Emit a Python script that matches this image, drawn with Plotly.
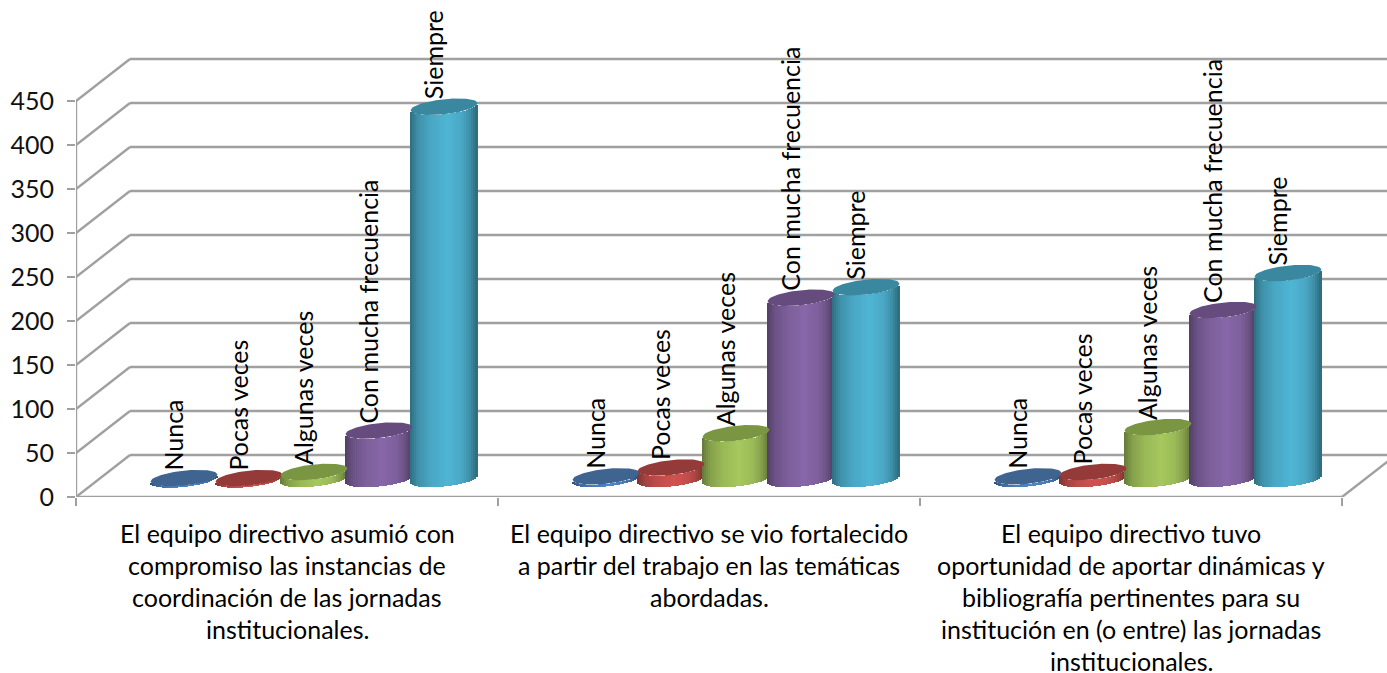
import plotly.graph_objects as go

# ---- data ----
groups = [0, 1, 2]
group_lines = [
    ["El equipo directivo asumió con", "compromiso las instancias de",
     "coordinación de las jornadas", "institucionales."],
    ["El equipo directivo se vio fortalecido", "a partir del trabajo en las temáticas",
     "abordadas."],
    ["El equipo directivo tuvo", "oportunidad de aportar dinámicas y",
     "bibliografía pertinentes para su", "institución en (o entre) las jornadas",
     "institucionales."],
]
series_names = ["Nunca", "Pocas veces", "Algunas veces", "Con mucha frecuencia", "Siempre"]
nunca = [1, 3, 3]
pocas = [1, 13, 8]
algunas = [8, 52, 59]
con_mucha = [55, 206, 192]
siempre = [423, 218, 234]
series_values = [nunca, pocas, algunas, con_mucha, siempre]
y_ticks = [0, 50, 100, 150, 200, 250, 300, 350, 400, 450]

# ---- styling ----
body_mid = ["#4f86c6", "#cf5350", "#a6c85e", "#8767a8", "#4fb5d4"]
cap_col = ["#3e648f", "#943b39", "#7b9642", "#664c7e", "#3a87a0"]
grid_col = "#a0a0a0"
FONT = "Lato"
PW, PH = 1311, 497          # plot area in px
XPX = 422.0                 # px per category
YPX = 0.88                  # px per value unit
DX, DY = 54 / XPX, 42 / YPX # 3-D wall offset
CX = 27 / XPX               # depth shift of the columns
BASE = 18 / YPX             # depth lift of the columns
STEP = 65 / XPX
A = 33.5 / XPX              # half width of column
TILT = 3.5 / YPX            # ellipse tilt
B = 7.5 / YPX               # ellipse half height
N = 34


def hex2rgb(h):
    return tuple(int(h[i:i + 2], 16) for i in (1, 3, 5))


def shade(t):
    pts = [(0, .60), (.12, .80), (.3, .92), (.55, 1.0), (.75, .93), (.9, .78), (1, .58)]
    for (a, va), (b, vb) in zip(pts, pts[1:]):
        if t <= b:
            return va + (vb - va) * (t - a) / (b - a)
    return pts[-1][1]


fig = go.Figure()

# cylinder bodies: narrow slices of each bar give the shading
for s, vals in enumerate(series_values):
    r, g, b = hex2rgb(body_mid[s])
    for k in range(N):
        t = (k + .5) / N
        u = 2 * t - 1
        low = TILT * u - B * (1 - u * u) ** .5
        f = shade(t)
        fig.add_trace(go.Bar(
            x=[c + (s - 2) * STEP + CX + u * A for c in groups],
            y=vals,
            base=[BASE + low] * len(groups),
            width=2 * A / N * 1.15,
            marker=dict(color=f"rgb({r * f:.0f},{g * f:.0f},{b * f:.0f})", line_width=0),
            showlegend=False, hoverinfo="skip"))

# cylinder caps
for s, vals in enumerate(series_values):
    xs, ys = [], []
    for c, v in zip(groups, vals):
        cx = c + (s - 2) * STEP + CX
        cy = BASE + v
        for i in range(0, 41):
            u = -1 + 2 * i / 40
            root = (1 - u * u) ** .5
            xs.append(cx + u * A); ys.append(cy + TILT * u + B * root)
        for i in range(40, -1, -1):
            u = -1 + 2 * i / 40
            root = (1 - u * u) ** .5
            xs.append(cx + u * A); ys.append(cy + TILT * u - B * root)
        xs.append(None); ys.append(None)
    fig.add_trace(go.Scatter(x=xs, y=ys, mode="lines", fill="toself",
                             fillcolor=cap_col[s], line=dict(width=0, color=cap_col[s]),
                             showlegend=False, hoverinfo="skip", name=series_names[s]))

# walls: front axis, floor and diagonals
wx, wy = [-.5, -.5, None, -.5, 2.5, None], [0, y_ticks[-1], None, 0, 0, None]
for v in y_ticks:
    wx += [-.5, -.5 + DX, None]
    wy += [v, v + DY, None]
wx += [2.5, 2.5 + DX]
wy += [0, DY]
fig.add_trace(go.Scatter(x=wx, y=wy, mode="lines", cliponaxis=False,
                         line=dict(color=grid_col, width=2.4),
                         showlegend=False, hoverinfo="skip"))

# back-wall grid lines sit behind the columns
shapes = [dict(type="line", layer="below", xref="x", yref="y",
               x0=-.5 + DX, x1=2.5 + DX, y0=v + DY, y1=v + DY,
               line=dict(color=grid_col, width=2.4)) for v in y_ticks]

ann = []
# rotated series labels
for s, vals in enumerate(series_values):
    for c, v in zip(groups, vals):
        ann.append(dict(x=c + (s - 2) * STEP + CX, y=BASE + v, xref="x", yref="y",
                        text=series_names[s], textangle=-90, showarrow=False,
                        xanchor="center", yanchor="bottom", xshift=-11, yshift=5,
                        font=dict(family=FONT, size=25, color="#000000")))
# category labels, line by line
for c, lines in zip(groups, group_lines):
    for i, line in enumerate(lines):
        ann.append(dict(x=c, y=0, xref="x", yref="y", text=line, showarrow=False,
                        xanchor="center", yanchor="middle", yshift=-(35.5 + 32.2 * i),
                        font=dict(family=FONT, size=25, color="#000000")))

fig.update_layout(
    width=1387, height=673, autosize=False,
    margin=dict(l=76, r=0, t=0, b=176, pad=0),
    paper_bgcolor="white", plot_bgcolor="white",
    barmode="overlay", bargap=0, showlegend=False,
    shapes=shapes, annotations=ann,
    xaxis=dict(range=[-.5, -.5 + PW / XPX], showgrid=False, zeroline=False, showline=False,
               tickmode="array", tickvals=[-.5, .5, 1.5, 2.5], showticklabels=False,
               ticks="outside", ticklen=8, tickwidth=2, tickcolor=grid_col),
    yaxis=dict(range=[0, PH / YPX], showgrid=False, zeroline=False, showline=False,
               tickmode="array", tickvals=y_ticks, ticktext=[str(v) for v in y_ticks],
               ticks="outside", ticklen=8, tickwidth=2, tickcolor=grid_col,
               ticklabelstandoff=8,
               tickfont=dict(family=FONT, size=25, color="#111111")),
)

fig.write_html("out.html", config={"displayModeBar": False},
               post_script="document.body.style.margin='0';document.body.style.overflow='hidden';")
